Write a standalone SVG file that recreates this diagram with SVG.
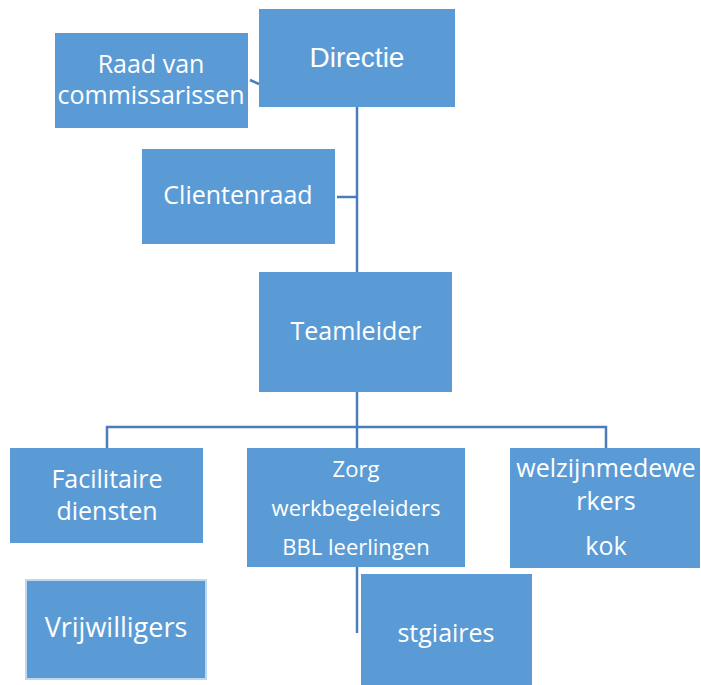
<svg xmlns="http://www.w3.org/2000/svg" width="701" height="685" viewBox="0 0 701 685">
<style>
.box{fill:#5B9BD5}
.t{fill:#fff;font-family:"Open Sans","DejaVu Sans",sans-serif;font-size:25px;text-anchor:middle}
.a{font-family:"Liberation Sans",Arial,sans-serif;font-size:28px}
.s{font-size:22px}
.c{fill:none;stroke:#4A7EBB;stroke-width:2.5}
</style>
<rect width="701" height="685" fill="#fff"/>
<g id="connectors">
<line class="c" x1="250" y1="80" x2="259" y2="84"/>
<line class="c" x1="357" y1="107" x2="357" y2="272"/>
<line class="c" x1="337" y1="197" x2="357" y2="197"/>
<line class="c" x1="357" y1="392" x2="357" y2="448"/>
<polyline class="c" points="107,448 107,427 606,427 606,448"/>
<line class="c" x1="357" y1="567" x2="357" y2="633"/>
</g>
<g id="raad"><rect class="box" x="55" y="33" width="193" height="95"/>
<text class="t" x="151" y="73">Raad van</text><text class="t" x="151" y="104">commissarissen</text></g>
<g id="directie"><rect class="box" x="259" y="9" width="196" height="98"/>
<text class="t a" x="357" y="67">Directie</text></g>
<g id="clientenraad"><rect class="box" x="142" y="149" width="193" height="95"/>
<text class="t" x="238" y="204">Clientenraad</text></g>
<g id="teamleider"><rect class="box" x="259" y="272" width="193" height="120"/>
<text class="t" x="356" y="340">Teamleider</text></g>
<g id="facilitaire"><rect class="box" x="10" y="448" width="193" height="95"/>
<text class="t" x="107" y="488">Facilitaire</text><text class="t" x="107" y="520">diensten</text></g>
<g id="zorg"><rect class="box" x="247" y="448" width="218" height="119"/>
<text class="t s" x="356" y="477">Zorg</text><text class="t s" x="356" y="516">werkbegeleiders</text><text class="t s" x="356" y="555">BBL leerlingen</text></g>
<g id="welzijn"><rect class="box" x="510" y="448" width="190" height="120"/>
<text class="t" x="606" y="477">welzijnmedewe</text><text class="t" x="606" y="510">rkers</text><text class="t" x="606" y="555">kok</text></g>
<g id="vrijwilligers"><rect class="box" x="26" y="580" width="180" height="99" stroke="#BDD7EE" stroke-width="2"/>
<text class="t" x="116" y="637" style="font-size:27px">Vrijwilligers</text></g>
<g id="stgiaires"><rect class="box" x="361" y="574" width="171" height="111"/>
<text class="t" x="446" y="642">stgiaires</text></g>
</svg>
